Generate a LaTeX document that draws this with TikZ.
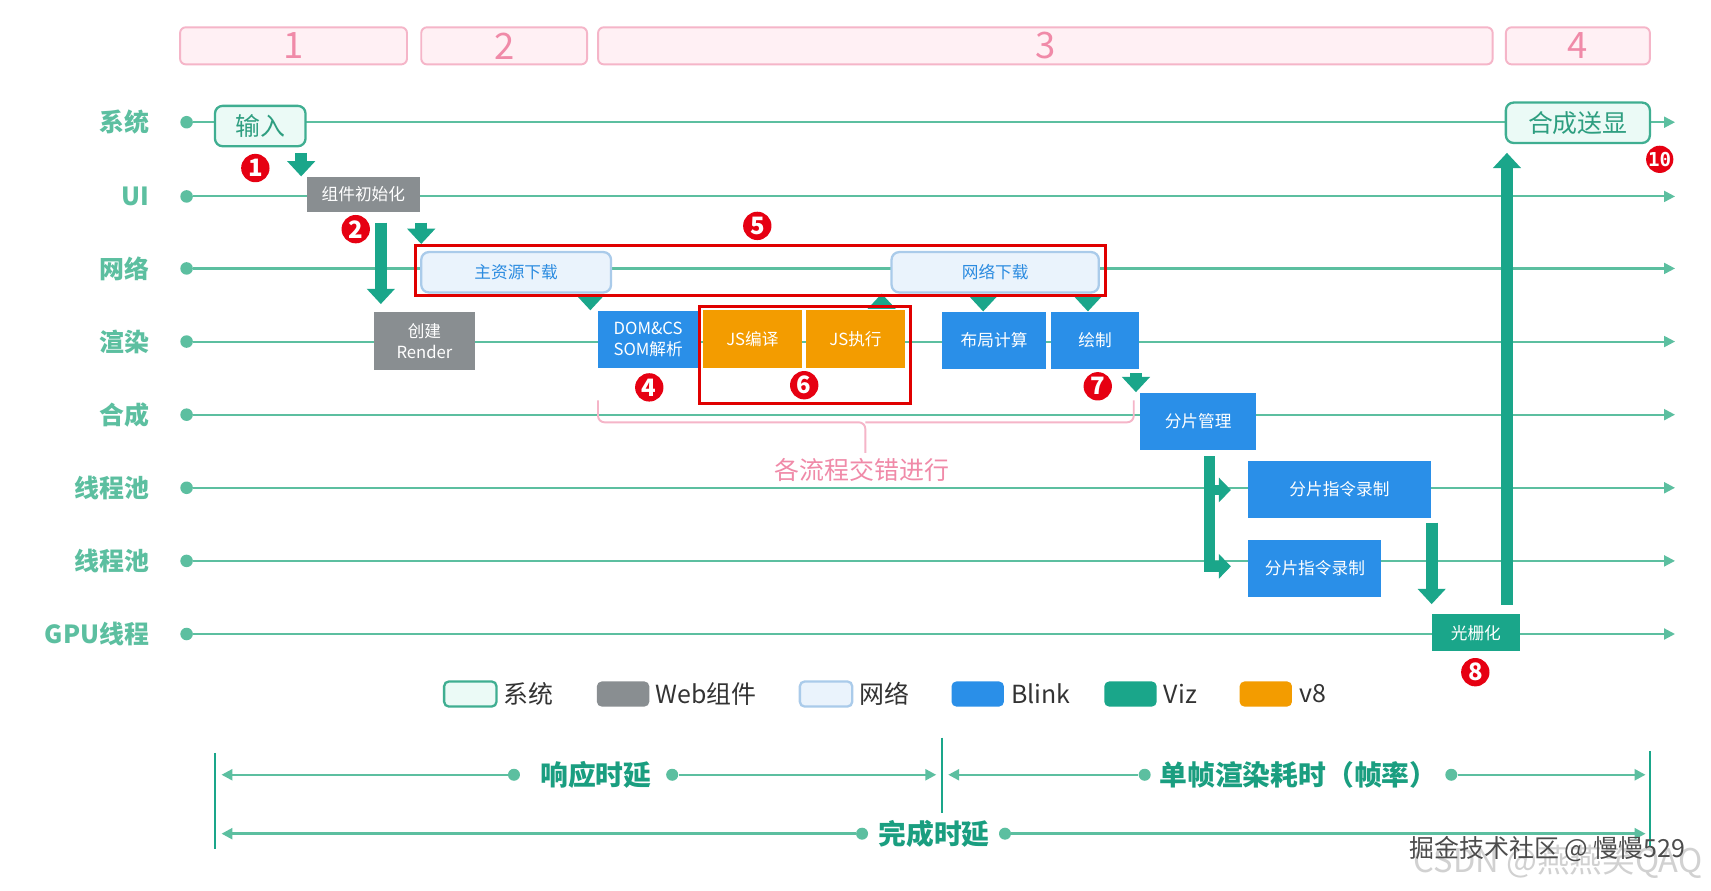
\documentclass[tikz,border=0pt]{standalone}
\usepackage{fontspec}
\setmainfont{Noto Sans CJK SC}
\newfontfamily\badgemono{DejaVu Sans Mono}
\usepackage{tikz}
\usetikzlibrary{arrows.meta, positioning, calc}

\definecolor{lanegreen}{HTML}{5CBFA0}
\definecolor{vizgreen}{HTML}{1AA68A}
\definecolor{timegreen}{HTML}{1A9E80}
\definecolor{webgray}{HTML}{898E91}
\definecolor{blinkblue}{HTML}{2A8FE8}
\definecolor{veight}{HTML}{F39C00}
\definecolor{netfill}{HTML}{EAF3FC}
\definecolor{netdraw}{HTML}{AACBEA}
\definecolor{nettext}{HTML}{2B8BE0}
\definecolor{sysfill}{HTML}{EBFAF6}
\definecolor{sysdraw}{HTML}{3FAE91}
\definecolor{systext}{HTML}{2E9E80}
\definecolor{phasefill}{HTML}{FFF0F4}
\definecolor{phasedraw}{HTML}{F5B5C8}
\definecolor{phasetext}{HTML}{F08AA8}
\definecolor{markred}{HTML}{E60012}
\definecolor{boxred}{HTML}{E00000}

\tikzset{
    lanelabel/.style={
        anchor=east,
        text=lanegreen,
        inner sep=0pt,
        font=\fontsize{13}{15}\selectfont\bfseries
    },
    lanedot/.style={
        circle,
        fill=lanegreen,
        inner sep=0pt,
        minimum size=0.23cm
    },
    lane/.style={
        draw=lanegreen,
        line width=1.1pt,
        -{Triangle[width=0.2cm,length=0.2cm]}
    },
    phase/.style={
        rectangle,
        rounded corners=3pt,
        draw=phasedraw,
        line width=1pt,
        fill=phasefill,
        text=phasetext,
        inner sep=0pt,
        minimum height=0.68cm,
        font=\fontsize{19}{21}\selectfont
    },
    sysbox/.style={
        rectangle,
        rounded corners=4pt,
        draw=sysdraw,
        line width=1.2pt,
        fill=sysfill,
        text=systext,
        inner sep=0pt,
        minimum height=0.74cm,
        font=\fontsize{13}{15}\selectfont
    },
    webbox/.style={
        rectangle,
        fill=webgray,
        text=white,
        inner sep=0pt,
        align=center,
        font=\fontsize{8.7}{11}\selectfont
    },
    netbox/.style={
        rectangle,
        rounded corners=4pt,
        draw=netdraw,
        line width=1.2pt,
        fill=netfill,
        text=nettext,
        inner sep=0pt,
        minimum height=0.74cm,
        font=\fontsize{8.7}{11}\selectfont
    },
    blinkbox/.style={
        rectangle,
        fill=blinkblue,
        text=white,
        inner sep=0pt,
        align=center,
        minimum height=1.05cm,
        font=\fontsize{8.7}{11}\selectfont
    },
    jsbox/.style={
        rectangle,
        fill=veight,
        text=white,
        inner sep=0pt,
        minimum height=1.06cm,
        font=\fontsize{8.7}{11}\selectfont
    },
    vizbox/.style={
        rectangle,
        fill=vizgreen,
        text=white,
        inner sep=0pt,
        font=\fontsize{8.7}{11}\selectfont
    },
    stagebox/.style={
        rectangle,
        draw=boxred,
        line width=1.6pt,
        inner sep=0pt
    },
    badge/.style={
        circle,
        fill=markred,
        text=white,
        inner sep=0pt,
        minimum size=0.52cm,
        font=\fontsize{12.5}{13}\selectfont\bfseries
    },
    flow/.style={
        draw=vizgreen,
        line width=0.22cm,
        -{Triangle[width=0.5cm,length=0.28cm]}
    },
    brace/.style={
        draw=phasedraw,
        line width=1pt,
        rounded corners=0.12cm
    },
    legendkey/.style={
        rectangle,
        rounded corners=2.5pt,
        minimum width=0.96cm,
        minimum height=0.46cm,
        inner sep=0pt
    },
    legendtext/.style={
        text=black!80,
        inner sep=0pt,
        font=\fontsize{13}{15}\selectfont
    },
    tick/.style={
        draw=vizgreen,
        line width=0.9pt
    },
    span/.style={
        draw=lanegreen,
        line width=1.3pt,
        -{Triangle[width=0.2cm,length=0.2cm]}
    },
    spandot/.style={
        circle,
        fill=lanegreen,
        inner sep=0pt,
        minimum size=0.22cm
    },
    spanlabel/.style={
        text=timegreen,
        inner sep=0pt,
        font=\fontsize{14.5}{16}\selectfont\bfseries
    }
}

\begin{document}
\begin{tikzpicture}[x=0.02cm, y=-0.02cm]

% Canvas
\fill[white] (0,0) rectangle (1568,816);
\useasboundingbox (0,0) rectangle (1568,816);

% Phases (top row)
\node[phase, minimum width=4.16cm] (phase1) at (269,42) {1};
\node[phase, minimum width=3.04cm] (phase2) at (462,42) {2};
\node[phase, minimum width=16.4cm] (phase3) at (958,42) {3};
\node[phase, minimum width=2.64cm] (phase4) at (1446,42) {4};

% Lanes
\foreach \i/\y/\name in {1/112/系统, 2/180/UI, 3/246/网络, 4/313/渲染, 5/380/合成, 6/447/线程池, 7/514/线程池, 8/581/GPU线程} {
    \node[lanelabel] (label\i) at (137,\y) {\name};
    \node[lanedot] (dot\i) at (171,\y) {};
    \coordinate (end\i) at (1535,\y);
    \draw[lane] (dot\i) -- (end\i);
}

% Interleaving brace
\draw[brace] (548,367) -- (548,387) -- (793,387) -- (793,415);
\draw[brace] (1039,367) -- (1039,387) -- (793,387);
\node[text=phasetext, font=\fontsize{13}{15}\selectfont] (interleave) at (790,431) {各流程交错进行};

% System / UI
\node[sysbox, minimum width=1.66cm] (input) at (238.5,115.5) {输入};
\node[sysbox, minimum width=2.64cm] (present) at (1446,112.5) {合成送显};
\node[webbox, minimum width=2.08cm, minimum height=0.64cm] (init) at (333,178) {组件初始化};
\node[webbox, minimum width=1.84cm, minimum height=1.06cm] (render) at (389,312.5) {创建\\Render};

% Network
\node[netbox, minimum width=3.48cm] (mainres) at (473,249.5) {主资源下载};
\node[netbox, minimum width=3.8cm] (netdl) at (912,249.5) {网络下载};

% Blink / v8
\node[blinkbox, minimum width=1.84cm] (dom) at (594,311) {DOM\&CS\\SOM解析};
\node[jsbox, minimum width=1.82cm] (jscomp) at (689.5,310.5) {JS编译};
\node[jsbox, minimum width=1.8cm] (jsrun) at (784,310.5) {JS执行};
\node[blinkbox, minimum width=1.92cm] (layout) at (911,312) {布局计算};
\node[blinkbox, minimum width=1.62cm] (paint) at (1003.5,312) {绘制};
\node[blinkbox, minimum width=2.12cm] (tile) at (1098,386) {分片管理};
\node[blinkbox, minimum width=3.34cm] (record1) at (1227.5,448.5) {分片指令录制};
\node[blinkbox, minimum width=2.44cm] (record2) at (1205,521) {分片指令录制};

% Viz
\node[vizbox, minimum width=1.62cm, minimum height=0.68cm] (raster) at (1352.5,580) {光栅化};

% Flow arrows
\coordinate (f1) at (276,140);
\draw[flow] (f1) -- (f1 |- init.north);
\coordinate (f2) at (349,204);
\draw[flow, shorten >=0.14cm] (f2) -- (f2 |- render.north);
\coordinate (f3) at (386,204);
\coordinate (f4) at (541,271);
\draw[flow] (f4) -- (f4 |- dom.north);
\coordinate (f5) at (808,282);
\draw[flow] (f5) -- (f5 |- netdl.south);
\coordinate (f6) at (901,271);
\draw[flow] (f6) -- (f6 |- layout.north);
\coordinate (f7) at (997,271);
\draw[flow] (f7) -- (f7 |- paint.north);
\coordinate (f8) at (1041,342);
\draw[flow] (f8) -- (f8 |- tile.north);
\coordinate (br) at (1108,418);
\coordinate (br1) at (1128,449);
\coordinate (br2) at (1128,519);
\draw[flow, line width=0.2cm, -{Triangle[width=0.44cm,length=0.22cm]}] (br) |- (br1);
\draw[flow, line width=0.2cm, -{Triangle[width=0.44cm,length=0.22cm]}] (br) |- (br2);
\coordinate (f9) at (1312,479);
\draw[flow, shorten >=0.18cm] (f9) -- (f9 |- raster.north);
\coordinate (f10) at (1381,554);
\draw[flow, shorten >=0.16cm] (f10) -- (f10 |- present.south);

% Stages
\node[stagebox, minimum width=12.64cm, minimum height=0.92cm] (netstage) at (697,248) {};
\node[stagebox, minimum width=3.86cm, minimum height=1.78cm] (jsstage) at (737.5,325.5) {};
\draw[flow] (f3) -- (f3 |- netstage.north);

% Badges
\node[badge] (b1) at (234,154) {1};
\node[badge] (b2) at (326,210) {2};
\node[badge] (b4) at (595,355) {4};
\node[badge] (b5) at (694,207) {5};
\node[badge] (b6) at (737,353) {6};
\node[badge] (b7) at (1006,354) {7};
\node[badge] (b8) at (1352,616) {8};
\node[badge, minimum size=0.46cm, font=\badgemono\fontsize{10}{11}\selectfont\bfseries] (b10) at (1521,146) {10};

% Legend
\node[legendkey, fill=sysfill, draw=sysdraw, line width=1.2pt] (lsys) at (431,636) {};
\node[legendtext, right=0.1cm of lsys] (tsys) {系统};
\node[legendkey, fill=webgray] (lweb) at (571,636) {};
\node[legendtext, right=0.1cm of lweb] (tweb) {Web组件};
\node[legendkey, fill=netfill, draw=netdraw, line width=1.2pt] (lnet) at (757,636) {};
\node[legendtext, right=0.1cm of lnet] (tnet) {网络};
\node[legendkey, fill=blinkblue] (lblink) at (896,636) {};
\node[legendtext, right=0.12cm of lblink] (tblink) {Blink};
\node[legendkey, fill=vizgreen] (lviz) at (1036,636) {};
\node[legendtext, right=0.12cm of lviz] (tviz) {Viz};
\node[legendkey, fill=veight] (lv8) at (1160,636) {};
\node[legendtext, right=0.12cm of lv8] (tv8) {v8};

% Latency spans
\coordinate (tickL1) at (197,690);
\coordinate (tickL2) at (197,778);
\coordinate (tickM1) at (863,676);
\coordinate (tickM2) at (863,745);
\coordinate (tickR1) at (1512,688);
\coordinate (tickR2) at (1512,775);
\draw[tick] (tickL1) -- (tickL2);
\draw[tick] (tickM1) -- (tickM2);
\draw[tick] (tickR1) -- (tickR2);

\node[spanlabel] (resp) at (546,710) {响应时延};
\node[spandot] (respL) at (471,710) {};
\node[spandot] (respR) at (616,710) {};
\coordinate (respEndL) at (203,710);
\coordinate (respEndR) at (858,710);
\draw[span] (respL) -- (respEndL);
\draw[span] (respR) -- (respEndR);

\node[spanlabel] (frame) at (1190,710) {单帧渲染耗时（帧率）};
\node[spandot] (frameL) at (1049,710) {};
\node[spandot] (frameR) at (1330,710) {};
\coordinate (frameEndL) at (869,710);
\coordinate (frameEndR) at (1508,710);
\draw[span] (frameL) -- (frameEndL);
\draw[span] (frameR) -- (frameEndR);

\node[spanlabel] (done) at (856,764) {完成时延};
\node[spandot] (doneL) at (790,764) {};
\node[spandot] (doneR) at (921,764) {};
\coordinate (doneEndL) at (203,764);
\coordinate (doneEndR) at (1508,764);
\draw[span] (doneL) -- (doneEndL);
\draw[span] (doneR) -- (doneEndR);

% Watermarks
\node[text=black!18, font=\fontsize{17}{18}\selectfont] (wmcsdn) at (1428,790) {CSDN @燕燕笑QAQ};
\node[text=black!70, font=\fontsize{13}{14}\selectfont] (wmjj) at (1418,778) {掘金技术社区 @ 慢慢529};

\end{tikzpicture}
\end{document}
